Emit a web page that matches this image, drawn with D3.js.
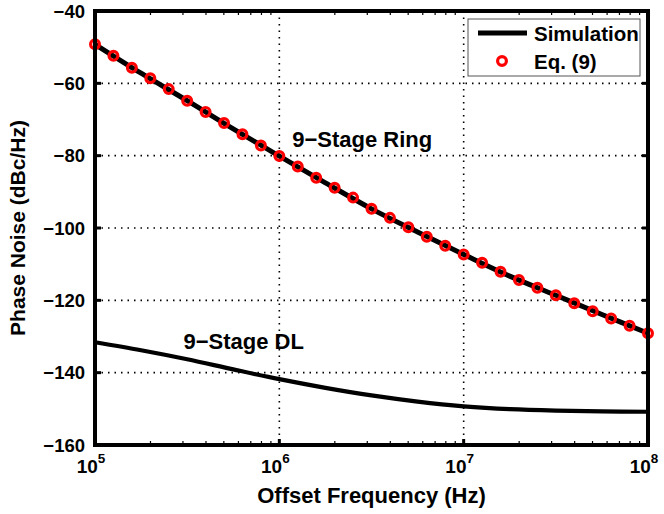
<!DOCTYPE html>
<html>
<head>
<meta charset="utf-8">
<script src="https://cdn.jsdelivr.net/npm/d3@7"></script>
<style>
  body { margin: 0; background: #fff; }
  text { font-family: "Liberation Sans", Arial, sans-serif; font-weight: bold; }
</style>
</head>
<body>
<div id="chart"></div>
<script>
// x positions as log10(Hz)
var eqExp = [5.0, 5.1, 5.2, 5.3, 5.4, 5.5, 5.6, 5.7, 5.8, 5.9,
             6.0, 6.1, 6.2, 6.3, 6.4, 6.5, 6.6, 6.7, 6.8, 6.9,
             7.0, 7.1, 7.2, 7.3, 7.4, 7.5, 7.6, 7.7, 7.8, 7.9, 8.0]
// Eq. (9), 9-stage ring (dBc/Hz)
var eqRing = [-49.2, -52.4, -55.7, -58.6, -61.6, -64.8, -67.9, -71.0, -74.1, -77.2,
              -80.1, -83.0, -86.1, -88.9, -91.6, -94.7, -97.2, -99.8, -102.4, -104.9,
              -107.3, -109.6, -112.1, -114.4, -116.5, -118.6, -120.8, -123.0, -125.0, -127.0, -129.1]
// simulation, 9-stage ring
var simRingExp = [5.0, 5.25, 5.5, 5.75, 6.0, 6.25, 6.5, 6.75, 7.0, 7.25, 7.5, 7.75, 8.0]
var simRing = [-49.2, -57.2, -64.8, -72.6, -80.1, -87.5, -94.7, -101.1, -107.3, -113.3, -118.6, -123.9, -129.1]
// simulation, 9-stage DL
var simDLExp = [5.0, 5.25, 5.5, 5.75, 6.0, 6.25, 6.5, 6.75, 7.0, 7.25, 7.5, 7.75, 8.0]
var simDL = [-131.6, -133.8, -136.3, -139.1, -141.8, -144.2, -146.3, -148.0, -149.3, -150.1, -150.5, -150.7, -150.8]

var yTicks = [-40, -60, -80, -100, -120, -140, -160]
var xTicks = [1e5, 1e6, 1e7, 1e8]

var W = 664, H = 514
var margin = { top: 11, right: 16, bottom: 69, left: 95 }
var width = W - margin.left - margin.right,
    height = H - margin.top - margin.bottom

var svg = d3.select("#chart").append("svg")
    .attr("width", W).attr("height", H)
var g = svg.append("g")
    .attr("transform", "translate(" + margin.left + "," + margin.top + ")")

var x = d3.scaleLog().domain([1e5, 1e8]).range([0, width])
var y = d3.scaleLinear().domain([-160, -40]).range([height, 0])

// grid (dotted)
g.selectAll(".hgrid").data(yTicks.slice(1, -1)).enter().append("line")
    .attr("x1", 0).attr("x2", width)
    .attr("y1", function (d) { return y(d) }).attr("y2", function (d) { return y(d) })
    .attr("stroke", "#000").attr("stroke-width", 1.6)
    .attr("stroke-dasharray", "1.5,5")
g.selectAll(".vgrid").data(xTicks.slice(1, -1)).enter().append("line")
    .attr("y1", 0).attr("y2", height)
    .attr("x1", function (d) { return x(d) }).attr("x2", function (d) { return x(d) })
    .attr("stroke", "#000").attr("stroke-width", 1.6)
    .attr("stroke-dasharray", "1.5,5")

// minor log ticks on top and bottom
var minor = []
for (var dec = 5; dec < 8; dec++) {
    for (var m = 2; m < 10; m++) minor.push(m * Math.pow(10, dec))
}
g.selectAll(".mb").data(minor).enter().append("line")
    .attr("x1", function (d) { return x(d) }).attr("x2", function (d) { return x(d) })
    .attr("y1", height).attr("y2", height - 4)
    .attr("stroke", "#000").attr("stroke-width", 1.2)
g.selectAll(".mt").data(minor).enter().append("line")
    .attr("x1", function (d) { return x(d) }).attr("x2", function (d) { return x(d) })
    .attr("y1", 0).attr("y2", 4)
    .attr("stroke", "#000").attr("stroke-width", 1.2)

// major ticks left/right
g.selectAll(".tl").data(yTicks).enter().append("line")
    .attr("x1", 0).attr("x2", 6)
    .attr("y1", function (d) { return y(d) }).attr("y2", function (d) { return y(d) })
    .attr("stroke", "#000").attr("stroke-width", 3)
g.selectAll(".tr").data(yTicks).enter().append("line")
    .attr("x1", width).attr("x2", width - 6)
    .attr("y1", function (d) { return y(d) }).attr("y2", function (d) { return y(d) })
    .attr("stroke", "#000").attr("stroke-width", 3)
g.selectAll(".tb").data(xTicks).enter().append("line")
    .attr("x1", function (d) { return x(d) }).attr("x2", function (d) { return x(d) })
    .attr("y1", height).attr("y2", height - 6)
    .attr("stroke", "#000").attr("stroke-width", 3)

// lines
var line = d3.line()
    .x(function (d) { return x(Math.pow(10, d[0])) })
    .y(function (d) { return y(d[1]) })
    .curve(d3.curveCatmullRom)

g.append("path")
    .datum(simDLExp.map(function (e, i) { return [e, simDL[i]] }))
    .attr("d", line).attr("fill", "none")
    .attr("stroke", "#000").attr("stroke-width", 4.2)

g.append("path")
    .datum(simRingExp.map(function (e, i) { return [e, simRing[i]] }))
    .attr("d", line).attr("fill", "none")
    .attr("stroke", "#000").attr("stroke-width", 5)

g.selectAll(".eq").data(eqExp).enter().append("circle")
    .attr("cx", function (d) { return x(Math.pow(10, d)) })
    .attr("cy", function (d, i) { return y(eqRing[i]) })
    .attr("r", 4.4)
    .attr("fill", "none").attr("stroke", "#ff0000").attr("stroke-width", 3.2)

// frame
g.append("rect")
    .attr("x", 0).attr("y", 0).attr("width", width).attr("height", height)
    .attr("fill", "none").attr("stroke", "#000").attr("stroke-width", 4)

// y tick labels
g.selectAll(".yl").data(yTicks).enter().append("text")
    .attr("x", -10).attr("y", function (d) { return y(d) + 6.5 })
    .attr("text-anchor", "end")
    .style("font-size", "18.5px")
    .text(function (d) { return "\u2212" + Math.abs(d) })

// x tick labels 10^n
var xl = g.selectAll(".xl").data(xTicks).enter().append("text")
    .attr("x", function (d) { return x(d) - 4 })
    .attr("y", height + 28)
    .attr("text-anchor", "middle")
    .style("font-size", "19px")
xl.append("tspan").text("10")
xl.append("tspan")
    .attr("dy", -10).style("font-size", "13.5px")
    .text(function (d) { return Math.round(Math.log10(d)) })

// axis titles
svg.append("text")
    .attr("x", margin.left + width / 2).attr("y", 503)
    .attr("text-anchor", "middle")
    .style("font-size", "22px")
    .text("Offset Frequency (Hz)")
svg.append("text")
    .attr("transform", "translate(25," + (margin.top + height / 2) + ") rotate(-90)")
    .attr("text-anchor", "middle")
    .style("font-size", "21px")
    .text("Phase Noise (dBc/Hz)")

// annotations
g.append("text")
    .attr("x", x(Math.pow(10, 6.07))).attr("y", y(-80) - 9)
    .style("font-size", "22px")
    .text("9\u2212Stage Ring")
g.append("text")
    .attr("x", x(Math.pow(10, 5.48))).attr("y", y(-133.5))
    .style("font-size", "22px")
    .text("9\u2212Stage DL")

// legend
var lg = svg.append("g").attr("transform", "translate(468,19)")
lg.append("rect")
    .attr("width", 172).attr("height", 57)
    .attr("fill", "#fff").attr("stroke", "#555").attr("stroke-width", 1)
lg.append("line")
    .attr("x1", 10).attr("x2", 59).attr("y1", 14).attr("y2", 14)
    .attr("stroke", "#000").attr("stroke-width", 5)
lg.append("circle")
    .attr("cx", 34).attr("cy", 42).attr("r", 4.4)
    .attr("fill", "none").attr("stroke", "#ff0000").attr("stroke-width", 3.2)
lg.append("text").attr("x", 66).attr("y", 22)
    .style("font-size", "20.5px").text("Simulation")
lg.append("text").attr("x", 66).attr("y", 50)
    .style("font-size", "20.5px").text("Eq. (9)")
</script>
</body>
</html>
